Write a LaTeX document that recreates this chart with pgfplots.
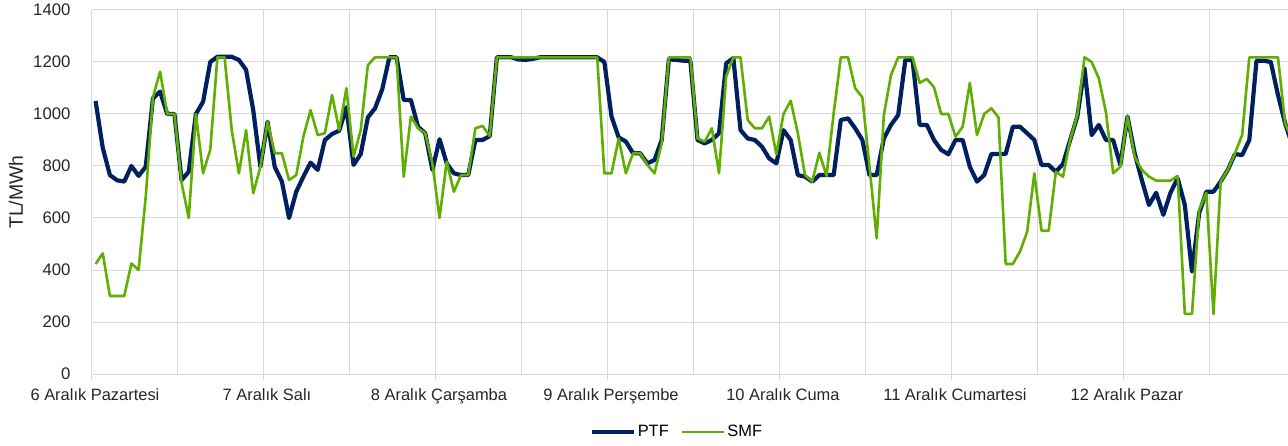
\documentclass[border=0pt]{standalone}
\usepackage{fontspec}
\setmainfont{Liberation Sans}
\usepackage{pgfplots}
\usepackage{pgfplotstable}
\pgfplotsset{compat=1.18}
\definecolor{ptf}{HTML}{002060}
\definecolor{smf}{HTML}{5FAE00}
\definecolor{gridc}{HTML}{D9D9D9}

% hourly prices, 6-12 Aralik (hour 0 = 6 Aralik 00:00)
\pgfplotstableread{
h ptf smf
0 1050 423
1 870 464
2 765 300
3 745 300
4 740 300
5 800 425
6 762 400
7 797 682
8 1060 1064
9 1086 1163
10 1000 1000
11 1000 1000
12 746 735
13 778 600
14 1000 1000
15 1047 772
16 1200 862
17 1220 1218
18 1220 1218
19 1220 938
20 1208 772
21 1170 938
22 1015 695
23 797 797
24 970 970
25 797 849
26 740 849
27 600 746
28 701 765
29 759 913
30 813 1015
31 785 919
32 900 926
33 923 1073
34 936 938
35 1026 1099
36 804 836
37 846 938
38 987 1188
39 1022 1218
40 1095 1218
41 1218 1218
42 1218 1218
43 1054 759
44 1054 990
45 951 945
46 926 926
47 785 810
48 903 600
49 810 817
50 772 701
51 765 765
52 765 765
53 900 945
54 900 954
55 915 915
56 1218 1218
57 1218 1218
58 1218 1218
59 1210 1218
60 1208 1218
61 1212 1218
62 1218 1218
63 1218 1218
64 1218 1218
65 1218 1218
66 1218 1218
67 1218 1218
68 1218 1218
69 1218 1218
70 1218 1218
71 1200 772
72 990 772
73 910 906
74 894 772
75 849 849
76 849 849
77 810 804
78 823 772
79 900 887
80 1210 1218
81 1208 1218
82 1205 1218
83 1204 1218
84 900 906
85 887 894
86 900 945
87 926 772
88 1195 1144
89 1215 1218
90 938 1218
91 906 977
92 900 945
93 874 945
94 829 990
95 810 845
96 938 1000
97 900 1051
98 765 926
99 759 765
100 740 740
101 765 851
102 765 762
103 765 1003
104 977 1218
105 983 1218
106 945 1099
107 900 1064
108 765 797
109 765 522
110 906 996
111 958 1150
112 996 1218
113 1208 1218
114 1208 1218
115 958 1120
116 958 1135
117 900 1103
118 862 1000
119 845 1000
120 900 913
121 900 951
122 797 1120
123 740 919
124 765 1000
125 846 1022
126 846 987
127 846 423
128 951 423
129 951 471
130 926 547
131 900 772
132 804 551
133 804 551
134 778 778
135 808 759
136 900 900
137 990 996
138 1176 1218
139 919 1200
140 958 1137
141 900 1006
142 900 772
143 804 797
144 990 990
145 849 836
146 746 785
147 650 759
148 697 744
149 612 744
150 697 744
151 753 762
152 650 231
153 394 231
154 618 631
155 701 697
156 701 231
157 740 740
158 785 785
159 846 849
160 842 919
161 900 1218
162 1205 1218
163 1205 1218
164 1200 1218
165 1073 1218
166 964 964
167 880 900
}\prices

\begin{document}
\begin{tikzpicture}
\begin{axis}[
  scale only axis,
  width=1196bp, height=364bp,
  xmin=-0.5, xmax=166.4,
  ymin=0, ymax=1400,
  axis x line*=bottom,
  axis y line*=left,
  axis line style={gridc, line width=1bp},
  ytick={0,200,...,1400},
  xtick={-0.5,23.5,...,143.5},
  xticklabels={6 Aralık Pazartesi, 7 Aralık Salı, 8 Aralık Çarşamba, 9 Aralık Perşembe, 10 Aralık Cuma, 11 Aralık Cumartesi, 12 Aralık Pazar},
  minor xtick={11.5,35.5,...,155.5},
  xmajorgrids, xminorgrids, ymajorgrids,
  grid style={gridc, line width=1bp},
  minor grid style={gridc, line width=1bp},
  tick align=outside,
  major tick length=6bp, minor tick length=0bp,
  xtick style={gridc, line width=1bp},
  ytick style={draw=none},
  tick label style={font=\fontsize{16.5}{18}\selectfont, text=black!85},
  yticklabel style={xshift=-12bp, font=\fontsize{16.8}{18}\selectfont},
  xticklabel style={xshift=3bp, yshift=-5bp},
  /pgf/number format/assume math mode=true,
  /pgf/number format/1000 sep={},
  scaled y ticks=false,
  ylabel={TL/MWh},
  ylabel style={font=\fontsize{19.5}{21}\selectfont, text=black!85,
    at={(axis description cs:-0.0635,0.5)}, anchor=center},
  legend style={at={(axis description cs:0.489,-0.159)}, anchor=center,
    draw=none, fill=none, font=\fontsize{16.5}{18}\selectfont,
    /tikz/every even column/.append style={column sep=10bp}},
  legend columns=-1,
  legend image code/.code={\draw[#1] (0bp,0bp) -- (42bp,0bp);},
  every axis plot/.append style={line join=round},
]
\addplot[ptf, line width=4.2bp, no markers] table[x=h, y=ptf] {\prices};
\addplot[smf, line width=2.6bp, no markers] table[x=h, y=smf] {\prices};
\legend{PTF, SMF}
\end{axis}
\pgfresetboundingbox
\useasboundingbox (-92bp,-72bp) rectangle (1196bp,374bp);
\end{tikzpicture}
\end{document}
